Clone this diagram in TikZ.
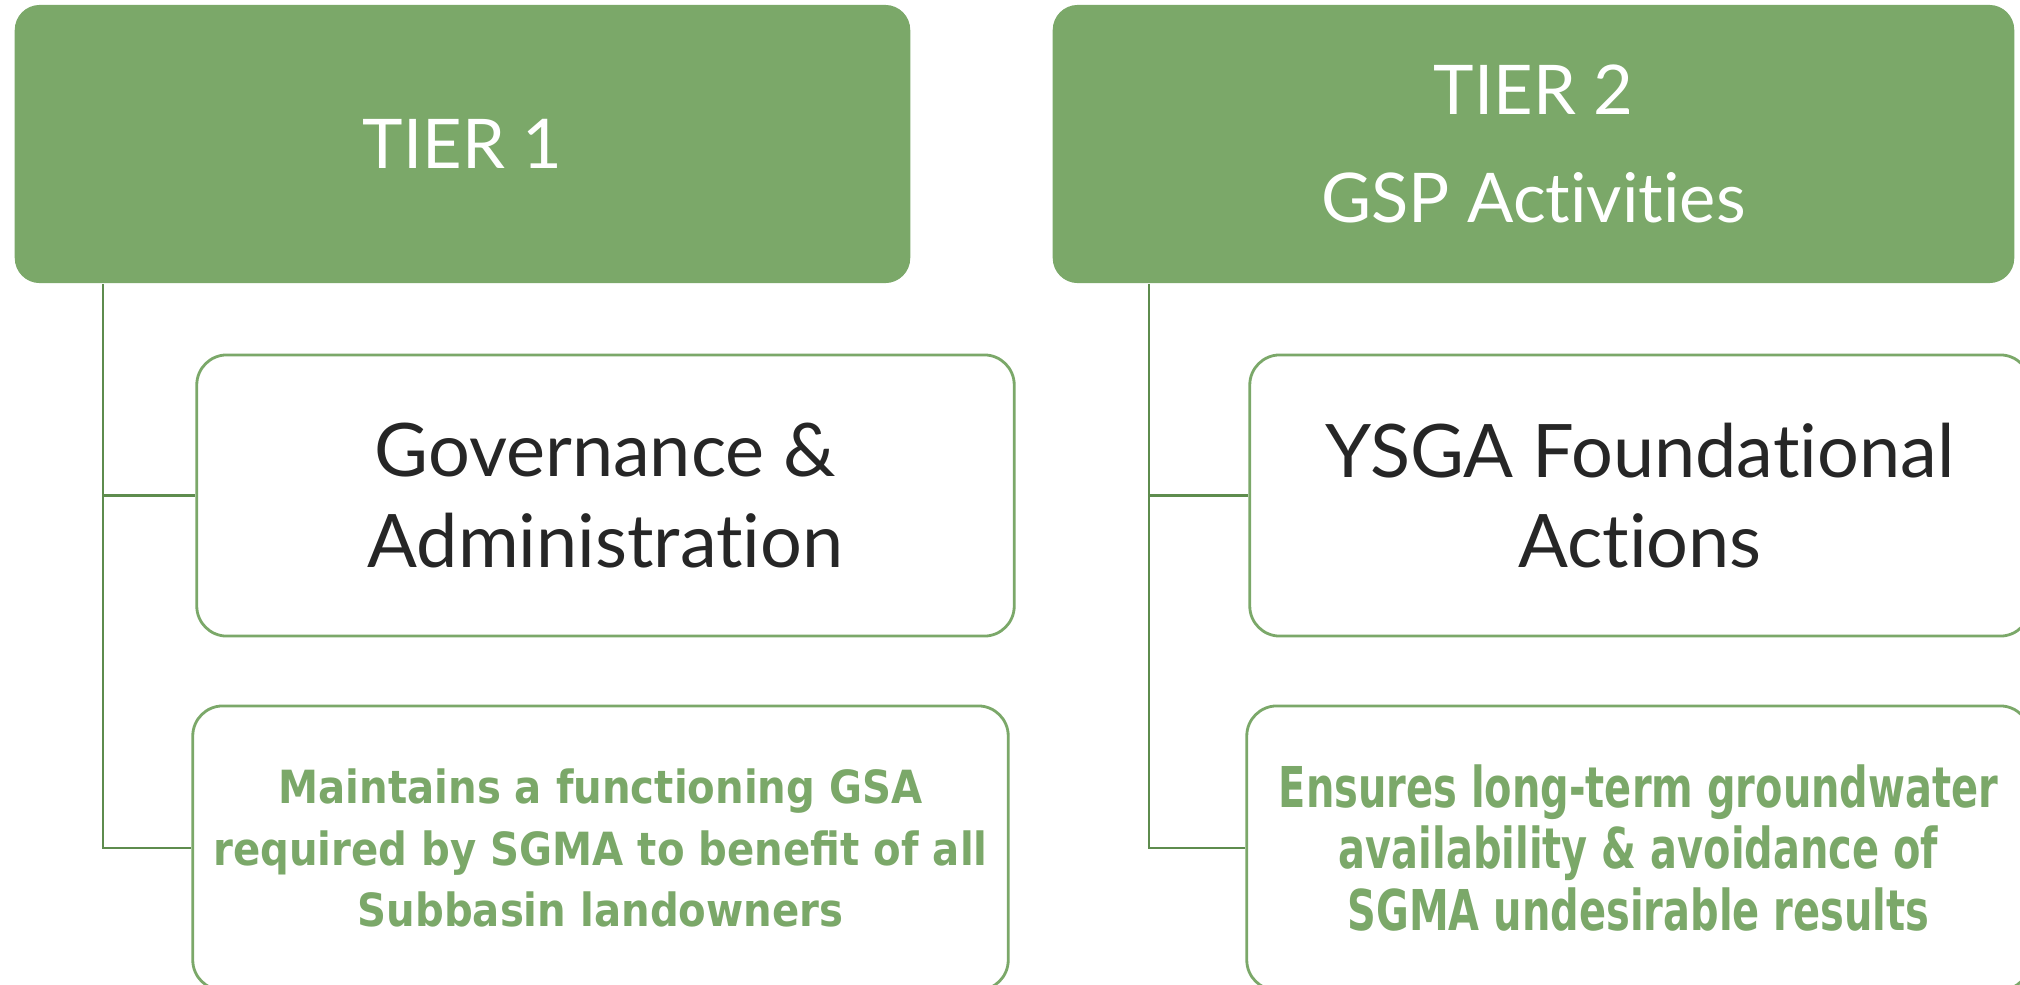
\documentclass[tikz,border=0pt]{standalone}
\usepackage{fontspec}
\setmainfont{Lato}[Ligatures=NoCommon]
\newfontfamily\wideb[FakeStretch=0.88]{DejaVu Sans}
\newfontfamily\narrowb[FakeStretch=0.71]{DejaVu Sans}
\definecolor{tiergreen}{HTML}{7BA869}
\definecolor{linegreen}{HTML}{5E8C4E}
\definecolor{textgray}{HTML}{262626}
\begin{document}
\begin{tikzpicture}[x=0.01cm, y=-0.01cm,
    tier/.style={fill=tiergreen, rounded corners=0.25cm, text=white, font=\fontsize{19.5}{30.5}\selectfont, align=center},
    item/.style={draw=tiergreen, line width=0.8pt, rounded corners=0.3cm, fill=white, align=center},
    itemhead/.style={text=textgray, font=\fontsize{21}{25.7}\selectfont},
    link/.style={draw=linegreen, line width=0.8pt}]
    \useasboundingbox (0,0) rectangle (2020,984);
    % tier headers
    \node[tier, minimum width=8.95cm, minimum height=2.78cm] (tierone) at (462.5,144) {TIER 1};
    \node[tier, minimum width=9.61cm, minimum height=2.78cm] (tiertwo) at (1533.5,144) {TIER 2\\GSP Activities};
    % items
    \node[item, itemhead, minimum width=8.17cm, minimum height=2.81cm] (gov) at (605.5,495.5) {Governance \&\\Administration};
    \node[item, minimum width=8.15cm, minimum height=2.84cm, text=tiergreen, font=\wideb\bfseries\fontsize{13}{17.5}\selectfont] (keep) at (600.5,848) {Maintains a functioning GSA\\required by SGMA to benefit of all\\Subbasin landowners};
    \node[item, itemhead, minimum width=7.80cm, minimum height=2.81cm] (ysga) at (1640,495.5) {YSGA Foundational\\Actions};
    \node[item, minimum width=7.83cm, minimum height=2.84cm, text=tiergreen, font=\narrowb\bfseries\fontsize{16}{17.5}\selectfont] (ensure) at (1638.5,848) {Ensures long-term groundwater\\availability \& avoidance of\\SGMA undesirable results};
    % connectors
    \coordinate (left) at (103,0);
    \coordinate (right) at (1149,0);
    \draw[link] (tierone.south -| left) |- (keep.west);
    \draw[link] (left |- gov.west) -- (gov.west);
    \draw[link] (tiertwo.south -| right) |- (ensure.west);
    \draw[link] (right |- ysga.west) -- (ysga.west);
\end{tikzpicture}
\end{document}
